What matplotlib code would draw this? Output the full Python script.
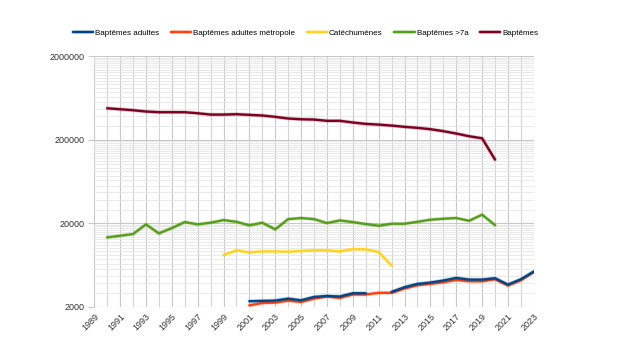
import matplotlib
matplotlib.use('Agg')
import matplotlib.pyplot as plt
import matplotlib.patheffects as pe
from matplotlib.ticker import FixedLocator, FixedFormatter
import numpy as np

# annual series
years_total = list(range(1990, 2021))
baptemes = [474000, 461000, 449000, 433000, 425000, 425000, 425000, 413000,
            398000, 398000, 402000, 395000, 388000, 374000, 357000, 350000,
            347000, 335000, 335000, 320000, 308000, 302000, 294000, 284000,
            276000, 266000, 252000, 236000, 219000, 207000, 115000]
baptemes_7a = [13460, 14100, 14770, 19300, 15040, 17420, 20560, 19300,
               20200, 21700, 20700, 18760, 20200, 16800, 22300, 22970,
               22300, 20000, 21500, 20550, 19460, 18580, 19630, 19630,
               20700, 21930, 22540, 22970, 21300, 25200, 18900]

years_catech = list(range(1999, 2013))
catechumenes = [8280, 9420, 8910, 9160, 9160, 9080, 9250, 9420, 9420, 9160,
                9770, 9680, 9000, 6200]

years_adultes = list(range(2001, 2024))
adultes = [2320, 2340, 2360, 2490, 2380, 2610, 2680, 2640, 2890, 2890,
           None, 3000, 3410, 3740, 3880, 4100, 4410, 4210, 4210, 4370,
           3670, 4250, 5250]
adultes_metro = [2070, 2210, 2230, 2360, 2270, 2490, 2640, 2540, 2790, 2790,
                 2920, 2920, 3290, 3600, 3740, 3910, 4170, 4020, 4020, 4250,
                 3570, 4130, 5200]

series = [
    ('Baptêmes adultes', years_adultes, adultes, '#004586'),
    ('Baptêmes adultes métropole', years_adultes, adultes_metro, '#ff420e'),
    ('Catéchumènes', years_catech, catechumenes, '#ffd320'),
    ('Baptêmes >7a', years_total, baptemes_7a, '#579d1c'),
    ('Baptêmes', years_total, baptemes, '#7e0021'),
]

plt.rcParams['font.family'] = ['Liberation Sans', 'DejaVu Sans']

fig = plt.figure(figsize=(6.2, 3.48), dpi=100)
ax = fig.add_axes([0.152, 0.119, 0.709, 0.72])

# metropole drawn first so the blue line sits on top
order = [1, 0, 2, 3, 4]
handles = {}
for i in order:
    label, xs, ys, col = series[i]
    yv = np.array([np.nan if v is None else v for v in ys], dtype=float)
    ln, = ax.plot(xs, yv, color=col, lw=1.7, label=label, solid_capstyle='round',
                  path_effects=[pe.Stroke(linewidth=2.8, foreground=col, alpha=0.22),
                                pe.Normal()])
    handles[i] = ln

ax.set_yscale('log')
ax.set_ylim(2000, 2000000)
ax.set_xlim(1989, 2023)

major = [2000, 20000, 200000, 2000000]
ax.yaxis.set_major_locator(FixedLocator(major))
ax.yaxis.set_major_formatter(FixedFormatter([str(v) for v in major]))
minor = []
for d in major[:-1]:
    step = d * 9 / 20
    minor += [d + step * k for k in range(1, 20)]
ax.yaxis.set_minor_locator(FixedLocator(minor))
ax.yaxis.set_minor_formatter(FixedFormatter([''] * len(minor)))

ax.set_xticks(range(1989, 2024, 2))
ax.set_xticks(range(1989, 2024), minor=True)
ax.set_xticklabels([str(y) for y in range(1989, 2024, 2)], rotation=45,
                   ha='right', va='top', rotation_mode='anchor')

ax.grid(True, which='major', axis='both', color='#c8c8c8', lw=0.8)
ax.grid(True, which='minor', axis='x', color='#d4d4d4', lw=0.8)
ax.grid(True, which='minor', axis='y', color='#e6e6e6', lw=0.6)
ax.set_axisbelow(True)

for s in ax.spines.values():
    s.set_visible(False)
ax.tick_params(which='both', length=0, labelsize=6.5, colors='#333333', pad=4)
ax.tick_params(axis='y', which='major', length=4, color='#c8c8c8', pad=3)

fig.legend([handles[i] for i in range(5)], [s[0] for s in series],
           loc='center', bbox_to_anchor=(0.493, 0.905), ncol=5, frameon=False,
           fontsize=5.8, handlelength=2.5, handletextpad=0.25, columnspacing=1.45)

fig.savefig('out.png', dpi=100)
